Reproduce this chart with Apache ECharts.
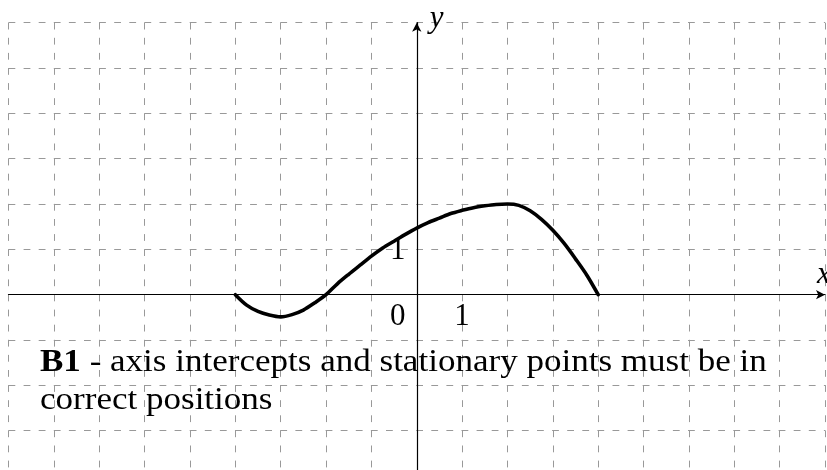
<!DOCTYPE html>
<html>
<head>
<meta charset="utf-8">
<script src="https://cdn.jsdelivr.net/npm/echarts@6/dist/echarts.min.js"></script>
<style>
  html, body { margin: 0; padding: 0; background: #ffffff; overflow: hidden; }
  #chart { width: 827px; height: 470px; }
</style>
</head>
<body>
<div id="chart"></div>
<script>
// Sketch of the curve: x positions and the matching y values
const curveX = [-4, -3.75, -3.5, -3.25, -3, -2.75, -2.5, -2.25, -2, -1.75, -1.5, -1.25, -1, -0.75, -0.5, -0.25,
                0, 0.25, 0.5, 0.75, 1, 1.25, 1.5, 1.75, 2, 2.25, 2.5, 2.75, 3, 3.25, 3.5, 3.75, 4];
const curveY = [0, -0.23, -0.37, -0.45, -0.49, -0.44, -0.34, -0.18, 0, 0.24, 0.45, 0.65, 0.85, 1.03, 1.18, 1.33,
                1.47, 1.59, 1.69, 1.79, 1.86, 1.92, 1.96, 1.99, 2.0, 1.97, 1.85, 1.66, 1.42, 1.13, 0.79, 0.43, 0];

// Tick labels drawn next to the axes: [x, y, text]
const tickLabels = [[0, 0, '0'], [1, 0, '1'], [0, 1, '1']];

// Axis extents (grid squares of one unit)
const xRange = [-9, 9];
const yRange = [-4, 6];

const noteBold = 'B1';
const noteLine1 = ' - axis intercepts and stationary points must be in';
const noteLine2 = 'correct positions';

const FONT = '"Liberation Serif", "DejaVu Serif", serif';
const gridLine = { color: '#999999', width: 1, type: [6.8, 8.3] };

const chart = echarts.init(document.getElementById('chart'));

chart.setOption({
  animation: false,
  backgroundColor: '#ffffff',
  grid: { left: 8.5, width: 816.5, top: 22.7, height: 453.3, containLabel: false, outerBoundsMode: 'none' },
  xAxis: {
    type: 'value', min: xRange[0], max: xRange[1], interval: 1,
    axisLine: { onZero: true, lineStyle: { color: '#000', width: 1.2 }, symbol: ['none', 'arrow'], symbolSize: [7, 9] },
    axisTick: { show: false },
    axisLabel: { show: false },
    splitLine: { show: true, lineStyle: gridLine }
  },
  yAxis: {
    type: 'value', min: yRange[0], max: yRange[1], interval: 1,
    axisLine: { onZero: true, lineStyle: { color: '#000', width: 1.2 }, symbol: ['none', 'arrow'], symbolSize: [7, 9] },
    axisTick: { show: false },
    axisLabel: { show: false },
    splitLine: { show: true, lineStyle: gridLine }
  },
  series: [
    {
      type: 'line',
      data: curveX.map((x, i) => [x, curveY[i]]),
      smooth: 0.3,
      showSymbol: false,
      lineStyle: { color: '#000', width: 3.6, join: 'round', cap: 'round' },
      z: 5
    },
    {
      type: 'scatter',
      symbolSize: 0,
      itemStyle: { color: '#000', opacity: 1 },
      data: tickLabels,
      label: {
        show: true,
        position: 'inside',
        formatter: p => p.data[2],
        fontFamily: FONT, fontSize: 31, color: '#000', opacity: 1,
        textBorderWidth: 0, textBorderColor: 'transparent',
        align: 'center', verticalAlign: 'middle'
      },
      labelLayout: p => {
        const d = tickLabels[p.dataIndex];
        if (d[1] === 1) return { dx: -19, dy: 2 };
        if (d[0] === 0) return { dx: -19, dy: 22 };
        return { dx: 0, dy: 22 };
      },
      z: 6
    }
  ]
});

// Axis names beside the arrow heads, placed from the axis ends
const xEnd = chart.convertToPixel({ gridIndex: 0 }, [xRange[1], 0]);
const yEnd = chart.convertToPixel({ gridIndex: 0 }, [0, yRange[1]]);
const nameStyle = { font: 'italic 31px ' + FONT, fill: '#000', verticalAlign: 'middle', align: 'left' };

chart.setOption({
  graphic: [
    { type: 'text', x: xEnd[0] - 8, y: xEnd[1] - 20, z: 10, style: Object.assign({ text: 'x' }, nameStyle) },
    { type: 'text', x: yEnd[0] + 13, y: yEnd[1] - 4, z: 10, style: Object.assign({ text: 'y' }, nameStyle) },
    {
      type: 'text', x: 40, y: 362.5, scaleX: 1.13, z: 10,
      style: {
        text: '{b|' + noteBold + '}' + noteLine1,
        font: '31px ' + FONT, fill: '#000', verticalAlign: 'middle',
        rich: { b: { fontFamily: FONT, fontSize: 31, fontWeight: 'bold', fill: '#000' } }
      }
    },
    {
      type: 'text', x: 40, y: 401, scaleX: 1.13, z: 10,
      style: { text: noteLine2, font: '31px ' + FONT, fill: '#000', verticalAlign: 'middle' }
    }
  ]
});
</script>
</body>
</html>
